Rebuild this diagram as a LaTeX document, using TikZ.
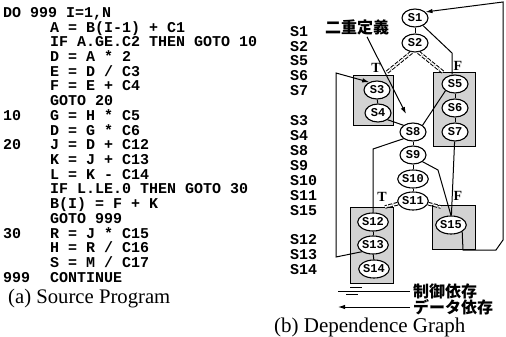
\documentclass[tikz,border=0pt]{standalone}
\usepackage{fontspec}
\setmainfont{Liberation Serif}
\setmonofont{Liberation Mono}
\newfontfamily\cjk{Noto Sans CJK JP}
\usetikzlibrary{arrows.meta,shapes.geometric,backgrounds,calc}
\begin{document}
\begin{tikzpicture}[x=1pt,y=-1pt,
  codetxt/.style={anchor=base west, inner sep=0pt, font=\fontsize{15}{15}\selectfont\ttfamily\bfseries},
  stmt/.style={ellipse, draw, line width=1.1pt, fill=white, minimum width=26pt, minimum height=18pt, inner sep=0pt, font=\fontsize{12}{12}\selectfont\ttfamily\bfseries},
  dep/.style={line width=1pt},
  ctrl/.style={double, double distance=1.6pt, line width=1pt, dash pattern=on 4pt off 1.5pt},
  tf/.style={font=\fontsize{14}{14}\selectfont\bfseries, inner sep=0pt},
  jp/.style={font=\fontsize{16}{16}\selectfont\cjk\bfseries, inner sep=0pt},
  captxt/.style={font=\fontsize{20.7}{20.7}\selectfont, anchor=base west, inner sep=0pt},
  blk/.style={draw, line width=1pt, fill=gray!35},
  arr/.style={-{Latex[length=7pt,width=4.5pt]}}
]
\useasboundingbox (0,0) rectangle (506,337);

% ---- source program ----
\node[codetxt] (p0)  at (3, 17.5) {DO 999 I=1,N};
\node[codetxt] (p1)  at (50, 32.2) {A = B(I-1) + C1};
\node[codetxt] (p2)  at (50, 46.9) {IF A.GE.C2 THEN GOTO 10};
\node[codetxt] (p3)  at (50, 61.6) {D = A * 2};
\node[codetxt] (p4)  at (50, 76.3) {E = D / C3};
\node[codetxt] (p5)  at (50, 91.0) {F = E + C4};
\node[codetxt] (p6)  at (50,105.7) {GOTO 20};
\node[codetxt] (l7)  at (3, 120.4) {10};
\node[codetxt] (p7)  at (50,120.4) {G = H * C5};
\node[codetxt] (p8)  at (50,135.1) {D = G * C6};
\node[codetxt] (l9)  at (3, 149.8) {20};
\node[codetxt] (p9)  at (50,149.8) {J = D + C12};
\node[codetxt] (p10) at (50,164.5) {K = J + C13};
\node[codetxt] (p11) at (50,179.2) {L = K - C14};
\node[codetxt] (p12) at (50,193.9) {IF L.LE.0 THEN GOTO 30};
\node[codetxt] (p13) at (50,208.6) {B(I) = F + K};
\node[codetxt] (p14) at (50,223.3) {GOTO 999};
\node[codetxt] (l15) at (3, 238.0) {30};
\node[codetxt] (p15) at (50,238.0) {R = J * C15};
\node[codetxt] (p16) at (50,252.7) {H = R / C16};
\node[codetxt] (p17) at (50,267.4) {S = M / C17};
\node[codetxt] (l18) at (3, 282.1) {999};
\node[codetxt] (p18) at (50,282.1) {CONTINUE};

% ---- statement labels ----
\node[codetxt] (s1)  at (290, 36.2) {S1};
\node[codetxt] (s2)  at (290, 51.1) {S2};
\node[codetxt] (s5)  at (290, 66.0) {S5};
\node[codetxt] (s6)  at (290, 80.9) {S6};
\node[codetxt] (s7)  at (290, 95.8) {S7};
\node[codetxt] (s3)  at (290,125.6) {S3};
\node[codetxt] (s4)  at (290,140.5) {S4};
\node[codetxt] (s8)  at (290,155.4) {S8};
\node[codetxt] (s9)  at (290,170.3) {S9};
\node[codetxt] (s10) at (290,185.2) {S10};
\node[codetxt] (s11) at (290,200.1) {S11};
\node[codetxt] (s15) at (290,215.0) {S15};
\node[codetxt] (s12) at (290,244.8) {S12};
\node[codetxt] (s13) at (290,259.7) {S13};
\node[codetxt] (s14) at (290,274.6) {S14};

\node[captxt] (capa) at (8,303) {(a) Source Program};
\node[captxt, font=\fontsize{21}{21}\selectfont] (capb) at (274,332) {(b) Dependence Graph};

% ---- graph nodes ----
\node[stmt] (S1)  at (415, 18) {S1};
\node[stmt] (S2)  at (415, 43) {S2};
\node[stmt] (S3)  at (377, 90) {S3};
\node[stmt] (S4)  at (378,113) {S4};
\node[stmt] (S5)  at (455, 84) {S5};
\node[stmt] (S6)  at (455,108) {S6};
\node[stmt] (S7)  at (455,132) {S7};
\node[stmt] (S8)  at (413,132) {S8};
\node[stmt] (S9)  at (413,155) {S9};
\node[stmt] (S10) at (413,179) {S10};
\node[stmt] (S11) at (413,201) {S11};
\node[stmt] (S12) at (373,222) {S12};
\node[stmt] (S13) at (373,245) {S13};
\node[stmt] (S14) at (374,269) {S14};
\node[stmt] (S15) at (451,225) {S15};

\begin{scope}[on background layer]
  \draw[blk] (353,76) rectangle (393,125);
  \draw[blk] (433,73) rectangle (475,146);
  \draw[blk] (350,207) rectangle (393,283);
  \draw[blk] (432,205) rectangle (475,249);
\end{scope}

% ---- data dependences ----
\coordinate (c15) at (452,53);
\draw[dep] (S1) -- (S2);
\draw[dep] (S1) -- (c15) -- (c15 |- S5.north);
\draw[dep] (S3) -- (S4);
\draw[dep] (S5) -- (S6);
\draw[dep] (S6) -- (S7);
\draw[dep] (S8) -- (S9);
\draw[dep] (S9) -- (S10);
\draw[dep] (S10) -- (S11);
\draw[dep] (S12) -- (S13);
\draw[dep] (S13) -- (S14);
\draw[dep] (S4.south east) -- (S8.north west);
\draw[dep] (S5.south west) -- (S8.north east);
\coordinate (c812) at (373,149);
\draw[dep] (S8.south west) -- (c812) -- (S12.north);
\coordinate (c915) at (438,170);
\draw[dep] (S9.south east) -- (c915) -- (S15.north);
\draw[dep] (S7) -- (S15);
\coordinate (lb) at (336,257);
\coordinate (lt) at (336,73);
\draw[dep,arr] (S13.south west) -- (lb) -- (lt) -- (S3.135);
\coordinate (r1) at (463,250);
\coordinate (r2) at (496,250);
\coordinate (r3) at (503,240);
\coordinate (r4) at (503,2);
\draw[dep,arr] (S15.south east) -- (r1) -- (r2) -- (r3) -- (r4) -- (S1.30);

% ---- control dependences ----
\coordinate (t1) at (386,73);
\coordinate (f1) at (444,73);
\coordinate (t2) at (385,207);
\coordinate (f2) at (441,207);
\draw[ctrl] (S2.250) -- (t1);
\draw[ctrl] (S2.290) -- (f1);
\draw[ctrl] (S11.190) -- (t2);
\draw[ctrl] (S11.350) -- (f2);
\node[tf] (T1) at (376,68) {T};
\node[tf] (F1) at (458,66) {F};
\node[tf] (T2) at (382,197) {T};
\node[tf] (F2) at (458,196) {F};

% ---- double definition ----
\node[jp] (dbl) at (357,27) {二重定義};
\coordinate (dd) at (406,114);
\draw[dep,arr] ($(dbl.south)+(10,2)$) -- (dd);

% ---- legend ----
\node[jp, anchor=west] (lg1) at (413,291) {制御依存};
\node[jp, anchor=west] (lg2) at (413,307) {データ依存};
\coordinate (lgc) at (338,291);
\coordinate (lgd) at (338,307);
\draw[dep] ([xshift=-3pt]lg1.west |- lgc) -- (lgc);
\draw[line width=0.7pt] (350,287.5) -- (362,287.5);
\draw[line width=0.7pt] (346,294.5) -- (358,294.5);
\draw[dep,arr] ([xshift=-3pt]lg2.west |- lgd) -- (lgd);
\end{tikzpicture}
\end{document}
